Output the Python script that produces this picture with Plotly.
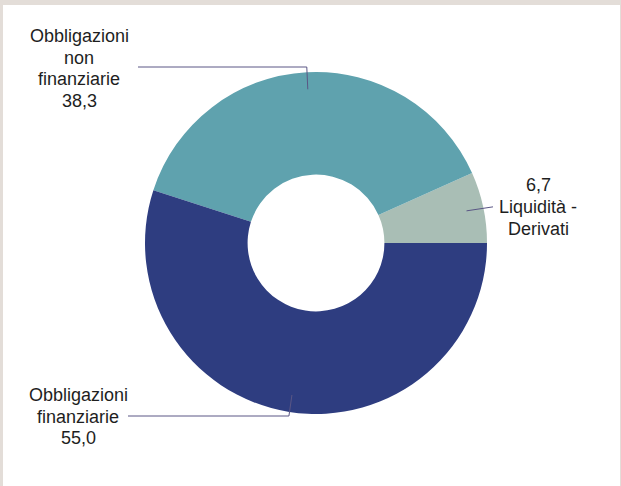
import math
import plotly.graph_objects as go

# ---- data ----
labels = ["Liquidità - Derivati", "Obbligazioni non finanziarie", "Obbligazioni finanziarie"]
label_lines = [["Liquidità -", "Derivati"], ["Obbligazioni", "non", "finanziarie"], ["Obbligazioni", "finanziarie"]]
values = [6.7, 38.3, 55.0]
colors = ["#a9beb5", "#5fa2ae", "#2e3d80"]

W, H = 621, 486
L, R, T, B = 145, 134, 72, 72
PW, PH = W - L - R, H - T - B
CX, CY = L + PW / 2, T + PH / 2
RAD = min(PW, PH) / 2
LINE_H = 21.7


def px(x, y):
    return (x - L) / PW, (H - B - y) / PH


total = sum(values)
first_deg = 360 * values[0] / total

fig = go.Figure(go.Pie(
    labels=labels, values=values, hole=0.4, sort=False,
    direction="counterclockwise", rotation=90 - first_deg,
    marker=dict(colors=colors, line=dict(width=0)),
    textinfo="none", hoverinfo="label+value", showlegend=False,
))

shapes = []
# frame
x0, y0 = px(3, 5)
x1, y1 = px(620, H + 5)
shapes.append(dict(type="rect", xref="paper", yref="paper", x0=x0, y0=y1, x1=x1, y1=y0,
                   fillcolor="white", line=dict(width=0), layer="below"))

cum = 0
annotations = []
line_col = "#5a5685"
font = dict(family="Liberation Sans, Arial, sans-serif", size=18, color="#1e1e1e")
for i, v in enumerate(values):
    mid = (cum + v / 2) / total * 2 * math.pi
    cum += v
    ax = CX + 0.9 * RAD * math.cos(mid)
    ay = CY - 0.9 * RAD * math.sin(mid)
    vtxt = f"{v:.1f}".replace(".", ",")
    if i == 0:
        pts = [(ax, ay), (493, ay - 4)]
        lines = [vtxt] + label_lines[i]
        tx, ty = 538, 207
    elif i == 1:
        pts = [(ax, ay), (ax - 1, 67), (138, 67)]
        lines = label_lines[i] + [vtxt]
        tx, ty = 79, 68.5
    else:
        pts = [(ax, ay), (ax - 3, 416), (128, 416)]
        lines = label_lines[i] + [vtxt]
        tx, ty = 78, 416.5
    n = len(lines)
    for k, ln in enumerate(lines):
        ly = ty + (k - (n - 1) / 2) * LINE_H
        annotations.append(dict(xref="paper", yref="paper", x=px(tx, ly)[0], y=px(tx, ly)[1],
                                text=ln, showarrow=False, xanchor="center", yanchor="middle",
                                align="center", font=font))
    path = "M " + " L ".join(f"{px(a, b)[0]},{px(a, b)[1]}" for a, b in pts)
    shapes.append(dict(type="path", xref="paper", yref="paper", path=path,
                       line=dict(color=line_col, width=1)))

fig.update_layout(
    width=W, height=H, autosize=False,
    margin=dict(l=L, r=R, t=T, b=B, pad=0),
    paper_bgcolor="#e3ddd8", plot_bgcolor="white",
    shapes=shapes, annotations=annotations,
)
fig.write_html("out.html", config={"displayModeBar": False},
               post_script="document.body.style.margin='0';")
